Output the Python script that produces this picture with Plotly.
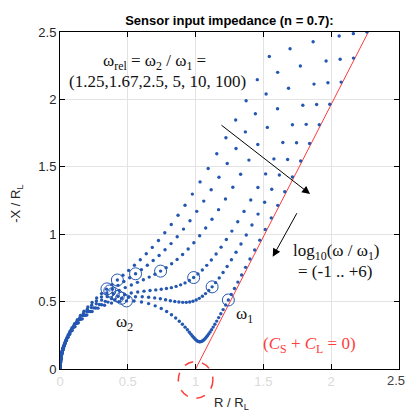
import numpy as np
import plotly.graph_objects as go

# ---- chart parameters (as stated on the chart) ----
omega_rel = [1.25, 1.67, 2.5, 5, 10, 100]   # omega2 / omega1
n_cpe = 0.7                                 # CPE exponent n
log_w_start, log_w_end, pts_per_decade = -1, 6, 20
cpe_mag_at_w1 = 0.56                         # |Z_cpe| / R_L at omega1 (read from circled points)

x_ticks = [0, 0.5, 1, 1.5, 2, 2.5]
y_ticks = [0, 0.5, 1, 1.5, 2, 2.5]

log_w = np.linspace(log_w_start, log_w_end, (log_w_end - log_w_start) * pts_per_decade + 1)

def z_sensor(w, wrel):
    z_a = 1 + cpe_mag_at_w1 * (1j * w) ** (-n_cpe)
    if wrel is None:
        return z_a
    return 1 / (1 / z_a + 1j * w / wrel)

BLUE = '#2457b0'
RED = '#ff3b3b'

fig = go.Figure()

w = 10 ** log_w
zr = z_sensor(w, None)
fig.add_trace(go.Scatter(x=zr.real, y=-zr.imag, mode='lines',
                         line=dict(color=RED, width=1), hoverinfo='skip'))

for wr in omega_rel:
    z = z_sensor(w, wr)
    fig.add_trace(go.Scatter(x=z.real, y=-z.imag, mode='markers',
                             marker=dict(color=BLUE, size=3.4), hoverinfo='skip'))

# circled points at omega1 and omega2 on each curve
cx, cy = [], []
for wr in omega_rel:
    for wc in (1.0, wr):
        zc = z_sensor(np.array([wc]), wr)[0]
        cx.append(zc.real)
        cy.append(-zc.imag)
fig.add_trace(go.Scatter(x=cx, y=cy, mode='markers',
                         marker=dict(symbol='circle-open-dot', size=12, color=BLUE,
                                     line=dict(color=BLUE, width=1)), hoverinfo='skip'))

serif = 'Liberation Serif, Times New Roman, serif'
sans = 'Liberation Sans, Arial, sans-serif'

def txt(x, y, text, size=17, color='#111', family=serif, **kw):
    d = dict(x=x, y=y, xref='paper', yref='paper', showarrow=False, text=text,
             xanchor='center', yanchor='middle',
             font=dict(family=family, size=size, color=color))
    d.update(kw)
    return d

ann = []
ann.append(txt(0.28, 0.912, 'ω<sub>rel</sub> = ω<sub>2</sub> / ω<sub>1</sub> ='))
ann.append(txt(0.288, 0.852, '(1.25,1.67,2.5, 5, 10, 100)'))
ann.append(txt(0.815, 0.347, 'log<sub>10</sub>(ω / ω<sub>1</sub>)'))
ann.append(txt(0.81, 0.288, '= (-1 .. +6)'))
ann.append(txt(0.19, 0.137, 'ω<sub>2</sub>'))
ann.append(txt(0.545, 0.16, 'ω<sub>1</sub>'))
ann.append(txt(0.737, 0.07, '(<i>C</i><sub>S</sub> + <i>C</i><sub>L</sub> = 0)', color=RED))
# arrows
ann.append(dict(x=1.844, y=1.298, ax=1.18, ay=1.817, xref='x', yref='y', axref='x', ayref='y',
                showarrow=True, arrowhead=2, arrowsize=1.6, arrowwidth=1, arrowcolor='black', text=''))
ann.append(dict(x=1.569, y=0.833, ax=1.753, ay=1.167, xref='x', yref='y', axref='x', ayref='y',
                showarrow=True, arrowhead=2, arrowsize=1.6, arrowwidth=1, arrowcolor='black', text=''))
# axis titles
ann.append(txt(0.505, -0.07, 'R / R<sub>L</sub>', size=13, color='#262626', family=sans,
               yanchor='top'))
ann.append(txt(-0.127, 0.49, '-X / R<sub>L</sub>', size=13, color='#262626', family=sans,
               textangle=-90))
# x tick label 2.5 (dark)
ann.append(txt(0.99, -0.007, '2.5', size=13, color='#404040', family=sans, yanchor='top'))

fig.update_layout(
    width=406, height=412,
    margin=dict(l=60, r=7, t=32, b=43),
    paper_bgcolor='white', plot_bgcolor='white',
    showlegend=False,
    title=dict(text='<b>Sensor input impedance (n = 0.7):</b>', x=0.565, xanchor='center',
               y=0.951, yanchor='middle', font=dict(family=sans, size=13, color='black')),
    annotations=ann,
    shapes=[dict(type='circle', xref='paper', yref='paper', x0=0.349, x1=0.451,
                 y0=-0.087, y1=0.022, line=dict(color=RED, width=1.5, dash='dash'))],
)
fig.update_xaxes(range=[0, 2.5], tickvals=x_ticks[:-1], ticktext=[str(t) for t in x_ticks[:-1]],
                 showgrid=True, gridcolor='#e3e3e3', gridwidth=1, zeroline=False,
                 showline=True, linecolor='black', linewidth=1, mirror='allticks',
                 ticks='inside', ticklen=5, tickcolor='black',
                 tickfont=dict(family=sans, size=13, color='#dadada'))
fig.update_yaxes(range=[0, 2.5], tickvals=y_ticks, ticktext=[str(t) for t in y_ticks],
                 showgrid=True, gridcolor='#e3e3e3', gridwidth=1, zeroline=False,
                 showline=True, linecolor='black', linewidth=1, mirror='allticks',
                 ticks='inside', ticklen=5, tickcolor='black',
                 tickfont=dict(family=sans, size=13, color='#262626'))

fig.write_html('out.html', config={'displayModeBar': False},
               post_script="document.body.style.margin='0';")
